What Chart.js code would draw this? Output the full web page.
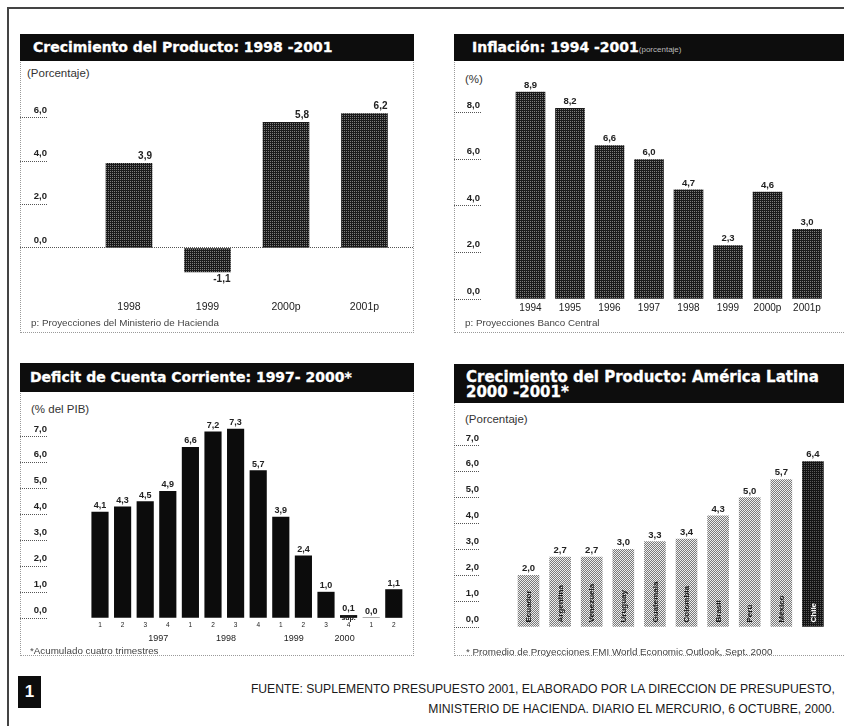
<!DOCTYPE html>
<html>
<head>
<meta charset="utf-8">
<script src="https://cdn.jsdelivr.net/npm/chart.js@4.4.0/dist/chart.umd.min.js"></script>
<style>
  body { margin: 0; width: 844px; height: 726px; overflow: hidden; position: relative; background: #fff;
         font-family: "Liberation Sans", Arial, sans-serif; color: #222; }
  .rule { position: absolute; background: #444; }
  .box { position: absolute; border: 1px dotted #9a9a9a; box-sizing: border-box; }
  .title { position: absolute; background: #0d0d0d; color: #fff; box-sizing: border-box; white-space: nowrap;
           font: bold 14px "DejaVu Sans", sans-serif; -webkit-text-stroke: 0.3px #fff; }
  .title small { font: 8px "Liberation Sans", sans-serif; -webkit-text-stroke: 0; color: #bbb; }
  .txt { position: absolute; font-size: 11.5px; white-space: nowrap; color: #333; }
  .note { position: absolute; font-size: 9.8px; white-space: nowrap; color: #444; }
  .chart { position: absolute; }
  .badge { position: absolute; left: 18px; top: 676px; width: 23px; height: 32px; background: #0d0d0d; color: #fff;
           font: bold 17px "Liberation Sans", sans-serif; text-align: center; line-height: 32px; }
  .source { position: absolute; right: 9px; top: 679px; text-align: right; white-space: nowrap;
            font: 13.5px "Liberation Sans", sans-serif; line-height: 20px; color: #1a1a1a;
            transform: scaleX(0.9); transform-origin: right top; }
</style>
</head>
<body>
<div class="rule" style="left:7px;top:7px;width:837px;height:2px"></div>
<div class="rule" style="left:7px;top:7px;width:2px;height:719px"></div>

<div class="box" style="left:20px;top:34px;width:394px;height:299px"></div>
<div class="title" style="left:20px;top:34px;width:394px;height:27px;line-height:27px;padding-left:13px">Crecimiento del Producto: 1998 -2001</div>
<div class="txt" style="left:27px;top:67px">(Porcentaje)</div>
<div class="chart" style="left:20px;top:61px"><canvas id="gdpChart" width="394" height="271"></canvas></div>
<div class="note" style="left:31px;top:317px">p: Proyecciones del Ministerio de Hacienda</div>

<div class="box" style="left:454px;top:34px;width:400px;height:299px"></div>
<div class="title" style="left:454px;top:34px;width:390px;height:27px;line-height:27px;padding-left:18px">Inflación: 1994 -2001<small>(porcentaje)</small></div>
<div class="txt" style="left:465px;top:73px">(%)</div>
<div class="chart" style="left:454px;top:61px"><canvas id="inflChart" width="390" height="271"></canvas></div>
<div class="note" style="left:465px;top:317px">p: Proyecciones Banco Central</div>

<div class="box" style="left:20px;top:363px;width:394px;height:293px"></div>
<div class="title" style="left:20px;top:363px;width:394px;height:29px;line-height:29px;padding-left:10px">Deficit de Cuenta Corriente: 1997- 2000*</div>
<div class="txt" style="left:31px;top:403px">(% del PIB)</div>
<div class="chart" style="left:20px;top:392px"><canvas id="cuChart" width="394" height="263"></canvas></div>
<div class="note" style="left:30px;top:645px">*Acumulado cuatro trimestres</div>

<div class="box" style="left:454px;top:364px;width:400px;height:292px"></div>
<div class="title" style="left:454px;top:364px;width:390px;height:39px;line-height:15px;padding:6px 0 0 12px;font-size:15px">Crecimiento del Producto: América Latina<br>2000 -2001*</div>
<div class="txt" style="left:465px;top:413px">(Porcentaje)</div>
<div class="chart" style="left:454px;top:403px"><canvas id="laChart" width="390" height="252"></canvas></div>
<div class="note" style="left:466px;top:646px">* Promedio de Proyecciones FMI World Economic Outlook, Sept. 2000</div>

<div class="badge">1</div>
<div class="source">FUENTE: SUPLEMENTO PRESUPUESTO 2001, ELABORADO POR LA DIRECCION DE PRESUPUESTO,<br>MINISTERIO DE HACIENDA. DIARIO EL MERCURIO, 6 OCTUBRE, 2000.</div>

<script>
// Crecimiento del Producto 1998-2001
const gdpYears = ['1998', '1999', '2000p', '2001p'];
const gdpGrowth = [3.9, -1.1, 5.8, 6.2];
const gdpTicks = [0, 2, 4, 6];

// Inflación 1994-2001
const inflYears = ['1994', '1995', '1996', '1997', '1998', '1999', '2000p', '2001p'];
const inflation = [8.9, 8.2, 6.6, 6.0, 4.7, 2.3, 4.6, 3.0];
const inflTicks = [0, 2, 4, 6, 8];

// Déficit de cuenta corriente, por trimestre
const cuQuarters = ['1', '2', '3', '4', '1', '2', '3', '4', '1', '2', '3', '4', '1', '2'];
const cuYears = ['1997', '1998', '1999', '2000'];
const cuDeficit = [4.1, 4.3, 4.5, 4.9, 6.6, 7.2, 7.3, 5.7, 3.9, 2.4, 1.0, 0.1, 0.0, 1.1];
const cuNotes = ['', '', '', '', '', '', '', '', '', '', '', 'sup.', '', ''];
const cuTicks = [0, 1, 2, 3, 4, 5, 6, 7];

// Crecimiento del Producto, América Latina 2000-2001
const laCountries = ['Ecuador', 'Argentina', 'Venezuela', 'Uruguay', 'Guatemala', 'Colombia', 'Brasil', 'Perú', 'México', 'Chile'];
const laGrowth = [2.0, 2.7, 2.7, 3.0, 3.3, 3.4, 4.3, 5.0, 5.7, 6.4];
const laTicks = [0, 1, 2, 3, 4, 5, 6, 7];

const fmt = v => Number(v).toFixed(1).replace('.', ',');
const INK = '#222';
const FONT = '"Liberation Sans", sans-serif';

// small halftone tile so the bars look printed
function halftone(base, dot, full) {
  const c = document.createElement('canvas');
  c.width = c.height = 2;
  const g = c.getContext('2d');
  g.fillStyle = base;
  g.fillRect(0, 0, 2, 2);
  g.fillStyle = dot;
  g.fillRect(0, 0, 1, 1);
  if (full) g.fillRect(1, 1, 1, 1);
  return g.createPattern(c, 'repeat');
}

// value above each bar (below it when negative), optional note and in-bar name
const barText = {
  id: 'barText',
  afterDatasetsDraw(chart, args, opts) {
    const ctx = chart.ctx;
    const meta = chart.getDatasetMeta(0);
    const data = chart.data.datasets[0].data;
    ctx.save();
    meta.data.forEach((bar, i) => {
      const v = data[i].y;
      const {x, y, width, base} = bar.getProps(['x', 'y', 'width', 'base'], true);
      ctx.fillStyle = INK;
      ctx.font = 'bold ' + (opts.size || 9) + 'px ' + FONT;
      const right = opts.align === 'right';
      ctx.textAlign = right ? 'right' : 'center';
      const tx = right ? x + width / 2 : x;
      if (v < 0) {
        ctx.textBaseline = 'top';
        ctx.fillText(fmt(v), tx, y + 2);
      } else {
        ctx.textBaseline = 'bottom';
        ctx.fillText(fmt(v), tx, y - 2);
      }
      if (opts.notes && opts.notes[i]) {
        ctx.font = 'bold 7px ' + FONT;
        ctx.textAlign = 'center';
        ctx.textBaseline = 'top';
        ctx.fillText(opts.notes[i], x, base - 3);
      }
      if (opts.names) {
        ctx.save();
        ctx.translate(x, base - 4);
        ctx.rotate(-Math.PI / 2);
        ctx.font = 'bold 8px ' + FONT;
        ctx.textAlign = 'left';
        ctx.textBaseline = 'middle';
        ctx.fillStyle = opts.nameColors[i];
        ctx.fillText(opts.names[i], 0, 0.5);
        ctx.restore();
      }
    });
    ctx.restore();
  }
};

function yAxis(c) {
  return {
    min: c.yMin, max: c.yMax,
    afterBuildTicks: s => { s.ticks = c.ticks.map(v => ({value: v})); },
    afterFit: s => { s.width = c.yW; },
    border: {display: false, dash: [1, 1]},
    grid: {
      drawOnChartArea: !!c.zeroLine,
      color: ctx => (ctx.tick && ctx.tick.value === 0 ? '#555' : 'rgba(0,0,0,0)'),
      tickLength: c.yW, tickColor: '#555', tickBorderDash: [1, 1], tickWidth: 1
    },
    ticks: {
      callback: v => fmt(v), crossAlign: 'near', padding: -c.yW + 1, labelOffset: -8,
      color: INK, font: {family: FONT, size: 9.5, weight: 'bold'}
    }
  };
}

function xAxis(labels, c) {
  return {
    type: 'linear', min: c.xMin, max: c.xMax, offset: false,
    afterBuildTicks: s => { s.ticks = labels.map((_, i) => ({value: i})); },
    afterFit: s => { s.height = c.xH; },
    border: {display: false},
    grid: {display: false, drawTicks: false},
    ticks: {
      display: c.xLabels !== false,
      callback: v => labels[v], autoSkip: false, maxRotation: 0, padding: c.xPad,
      color: INK, font: {family: FONT, size: c.xSize || 10}
    }
  };
}

function barChart(id, labels, values, c) {
  const scales = {x: xAxis(labels, c), y: yAxis(c)};
  Object.assign(scales, c.moreScales || {});
  return new Chart(document.getElementById(id), {
    type: 'bar',
    data: {
      datasets: [{
        data: values.map((v, i) => ({x: i, y: v})),
        backgroundColor: c.colors,
        borderWidth: 0,
        barThickness: c.barW
      }]
    },
    options: {
      responsive: false,
      animation: false,
      events: [],
      layout: {padding: {top: c.padTop, left: 0, right: 0, bottom: 0}},
      plugins: {legend: {display: false}, tooltip: {enabled: false}, barText: c.text},
      scales
    },
    plugins: [barText]
  });
}

const darkTone = halftone('#1a1a1a', '#7c7c7c');

barChart('gdpChart', gdpYears, gdpGrowth, {
  yMin: -2, yMax: 8, ticks: gdpTicks, yW: 28, padTop: 13.6, zeroLine: true,
  xMin: -1.032, xMax: 3.631, xH: 40.7, xPad: 10, xSize: 10.5, barW: 46,
  colors: darkTone, text: {align: 'right', size: 10}
});

barChart('inflChart', inflYears, inflation, {
  yMin: 0, yMax: 9.5, ticks: inflTicks, yW: 27, padTop: 17.1,
  xMin: -1.253, xMax: 7.937, xH: 33, xPad: 3, xSize: 10, barW: 29,
  colors: darkTone, text: {size: 9.5}
});

// year captions sit centred under each run of quarters
const cuYearPos = [];
cuQuarters.forEach((q, i) => {
  if (q === '1') cuYearPos.push([i, i]);
  else cuYearPos[cuYearPos.length - 1][1] = i;
});
const cuGeo = {
  yMin: 0, yMax: 8, ticks: cuTicks, yW: 28, padTop: 19.1,
  xMin: -2.301, xMax: 13.894, xH: 12, xPad: 3, xSize: 6.5, barW: 16.5,
  colors: '#0c0c0c', text: {notes: cuNotes, size: 9}
};
cuGeo.moreScales = {
  x2: {
    type: 'linear', position: 'bottom', min: cuGeo.xMin, max: cuGeo.xMax,
    afterBuildTicks: s => { s.ticks = cuYearPos.map(p => ({value: (p[0] + p[1]) / 2})); },
    afterFit: s => { s.height = 25; },
    border: {display: false},
    grid: {display: false, drawTicks: false},
    ticks: {
      callback: (v, i) => cuYears[i], autoSkip: false, maxRotation: 0, padding: 3,
      color: INK, font: {family: FONT, size: 9}
    }
  }
};
barChart('cuChart', cuQuarters, cuDeficit, cuGeo);

const lightTone = halftone('#ededed', '#7a7a7a', true);
const chileTone = halftone('#141414', '#5a5a5a');
barChart('laChart', laCountries, laGrowth, {
  yMin: 0, yMax: 7.5, ticks: laTicks, yW: 26, padTop: 30.05,
  xMin: -1.535, xMax: 9.984, xH: 28, xPad: 0, xLabels: false, barW: 21,
  colors: laCountries.map(n => (n === 'Chile' ? chileTone : lightTone)),
  text: {size: 9.5, names: laCountries, nameColors: laCountries.map(n => (n === 'Chile' ? '#fff' : '#1a1a1a'))}
});
</script>
</body>
</html>
